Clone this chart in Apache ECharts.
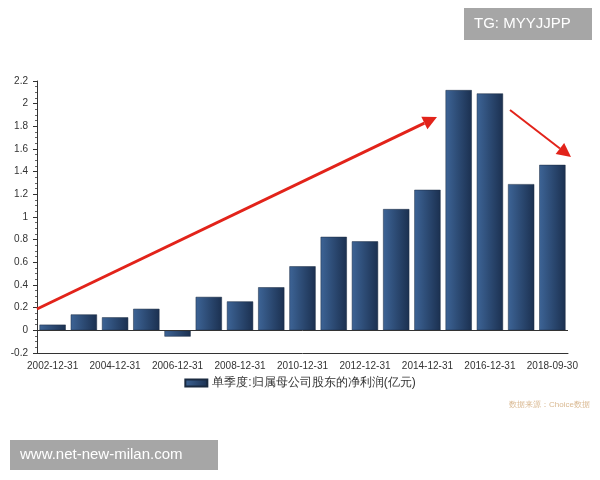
<!DOCTYPE html>
<html style="height: 100%">
<head>
  <meta charset="utf-8">
  <script src="https://cdn.jsdelivr.net/npm/echarts@6/dist/echarts.min.js"></script>
</head>
<body style="height: 100%; margin: 0; background: #fff">
  <div id="container" style="width: 600px; height: 480px"></div>
  <script type="text/javascript">
    var categories = ['2002-12-31', '2003-12-31', '2004-12-31', '2005-12-31', '2006-12-31', '2007-12-31',
      '2008-12-31', '2009-12-31', '2010-12-31', '2011-12-31', '2012-12-31', '2013-12-31', '2014-12-31',
      '2015-12-31', '2016-12-31', '2017-12-31', '2018-09-30'];
    var profit = [0.05, 0.14, 0.115, 0.19, -0.055, 0.295, 0.255, 0.38, 0.565, 0.825, 0.785, 1.07, 1.24,
      2.12, 2.09, 1.29, 1.46];
    var seriesName = '单季度:归属母公司股东的净利润(亿元)';

    var myChart = echarts.init(document.getElementById('container'));

    // 红色箭头（标注用）
    function arrow(x1, y1, x2, y2, w) {
      var a = Math.atan2(y2 - y1, x2 - x1), L = 14, H = 7;
      var bx = x2 - L * Math.cos(a), by = y2 - L * Math.sin(a);
      return [{
        type: 'line', z: 100,
        shape: { x1: x1, y1: y1, x2: bx, y2: by },
        style: { stroke: '#e2231a', lineWidth: w }
      }, {
        type: 'polygon', z: 100,
        shape: { points: [[x2, y2], [bx + H * Math.sin(a), by - H * Math.cos(a)], [bx - H * Math.sin(a), by + H * Math.cos(a)]] },
        style: { fill: '#e2231a' }
      }];
    }

    var option = {
      animation: false,
      grid: { left: 37, right: 32, top: 81, bottom: 127 },
      legend: {
        data: [{ name: seriesName, icon: 'rect' }], bottom: 86, left: 'center',
        itemWidth: 22, itemHeight: 7,
        textStyle: { color: '#333', fontSize: 12 }
      },
      xAxis: {
        type: 'category', data: categories,
        axisLine: { onZero: false, lineStyle: { color: '#333' } },
        axisTick: { alignWithLabel: true, interval: 0, lineStyle: { color: '#333' } },
        axisLabel: { interval: 1, color: '#333', fontSize: 10, margin: 8 }
      },
      yAxis: {
        type: 'value', min: -0.2, max: 2.2, interval: 0.2,
        axisLine: { show: true, lineStyle: { color: '#333' } },
        axisTick: { show: true, inside: false, length: 4, lineStyle: { color: '#333' } },
        minorTick: { show: true, splitNumber: 4, length: 2, lineStyle: { color: '#666' } },
        splitLine: { show: false },
        axisLabel: { color: '#333', fontSize: 10, margin: 9, formatter: function (v) { return +v.toFixed(1); } }
      },
      series: [{
        name: seriesName, type: 'bar', data: profit, barCategoryGap: '16%',
        itemStyle: {
          color: new echarts.graphic.LinearGradient(0, 0, 1, 0, [
            { offset: 0, color: '#3d6496' }, { offset: 1, color: '#1b3050' }
          ]),
          borderColor: '#1a2a40', borderWidth: 0.5
        },
        markLine: {
          silent: true, symbol: 'none', label: { show: false },
          lineStyle: { color: '#333', type: 'solid', width: 1 },
          data: [{ yAxis: 0 }]
        }
      }],
      graphic: [].concat(
        arrow(37, 309, 437, 117, 3),
        arrow(510, 110, 571, 157, 2),
        [{
          type: 'rect', shape: { x: 464, y: 8, width: 128, height: 32 },
          style: { fill: 'rgba(150,150,150,0.85)' }
        }, {
          type: 'text', x: 474, y: 16,
          style: { text: 'TG: MYYJJPP', fill: '#fff', fontSize: 15, fontFamily: 'Arial' }
        }, {
          type: 'rect', shape: { x: 10, y: 440, width: 208, height: 30 },
          style: { fill: 'rgba(150,150,150,0.85)' }
        }, {
          type: 'text', x: 20, y: 447,
          style: { text: 'www.net-new-milan.com', fill: '#fff', fontSize: 15, fontFamily: 'Arial' }
        }, {
          type: 'text', x: 509, y: 401,
          style: { text: '数据来源：Choice数据', fill: '#d9b890', fontSize: 8 }
        }]
      )
    };
    myChart.setOption(option);
  </script>
</body>
</html>
